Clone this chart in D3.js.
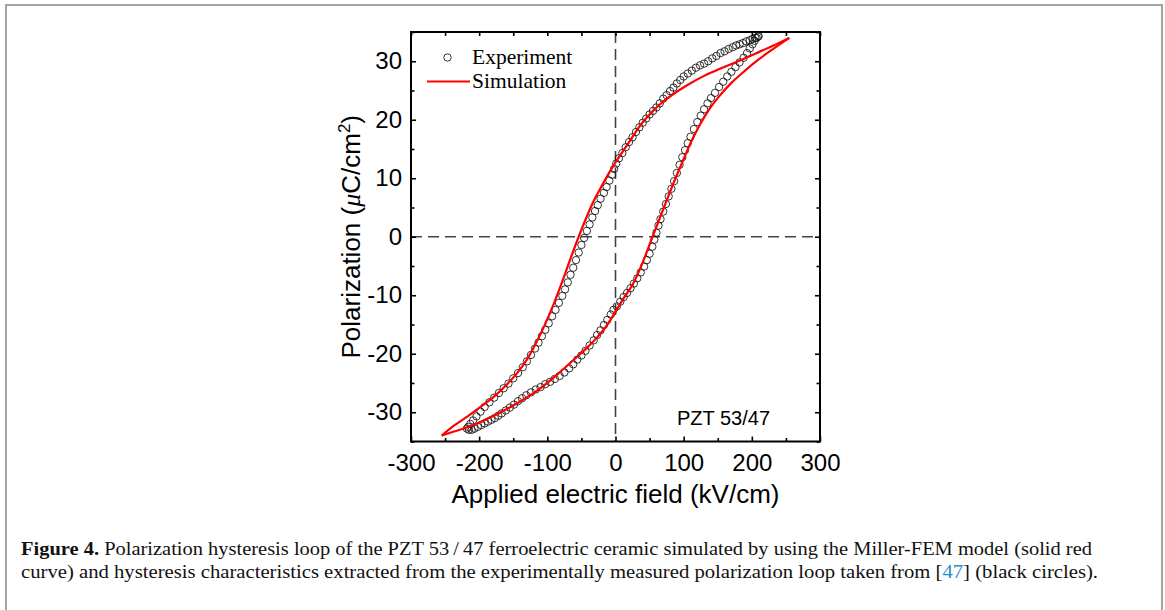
<!DOCTYPE html>
<html>
<head>
<meta charset="utf-8">
<script src="https://cdn.jsdelivr.net/npm/d3@7"></script>
<style>
  html, body { margin: 0; padding: 0; background: #fff; }
  svg { display: block; }
  .tick text { font-family: "Liberation Sans", Arial, sans-serif; font-size: 24px; fill: #000; }
  .tick line { stroke: #000; stroke-width: 1.6; }
</style>
</head>
<body>
<svg id="fig" width="1165" height="610"></svg>
<script>
// Axis ticks
const xTicks = [-300, -200, -100, 0, 100, 200, 300];
const xMinorTicks = [-250, -150, -50, 50, 150, 250];
const yTicks = [-30, -20, -10, 0, 10, 20, 30];
const yMinorTicks = [-35, -25, -15, -5, 5, 15, 25, 35];

// Measured loop, field decreasing (E in kV/cm, P in µC/cm²)
const expDescending = [
  [209,34.2],[205,34.0],[201,33.8],[197,33.6],[192,33.4],[187,33.1],[182,32.9],[177,32.7],
  [172,32.4],[166,32.1],[160,31.7],[154,31.4],[148,30.9],[142,30.5],[136,30.0],[130,29.6],
  [124,29.3],[118,28.9],[112,28.4],[106,27.9],[100,27.4],[95,26.8],[90,26.2],[85,25.5],
  [80,24.9],[75,24.2],[70,23.6],[65,22.8],[60,22.1],[55,21.5],[50,20.9],[45,20.2],
  [40,19.5],[35,18.7],[30,17.9],[25,17.0],[20,16.2],[15,15.3],[10,14.3],[5,13.4],
  [1,12.5],[-2,11.6],[-5,10.6],[-9,9.6],[-13,8.5],[-17,7.5],[-22,6.5],[-26,5.4],
  [-30,4.4],[-34,3.3],[-38,2.1],[-42,1.0],[-46,-0.2],[-50,-1.4],[-54,-2.7],[-58,-4.0],
  [-62,-5.3],[-66,-6.5],[-70,-7.8],[-74,-9.0],[-78,-10.1],[-83,-11.3],[-88,-12.5],[-93,-13.6],
  [-98,-14.8],[-103,-15.9],[-108,-17.0],[-113,-18.1],[-118,-19.1],[-124,-20.2],[-130,-21.3],
  [-136,-22.3],[-143,-23.3],[-150,-24.2],[-157,-25.1],[-164,-25.9],[-171,-26.7],[-178,-27.5],
  [-185,-28.3],[-192,-29.1],[-198,-29.9],[-204,-30.7],[-209,-31.4],[-213,-32.0],[-216,-32.5],
  [-218,-32.8]
];

// Measured loop, field increasing
const expAscending = [
  [-215,-33.0],[-211,-33.0],[-207,-32.8],[-202,-32.5],[-197,-32.2],[-192,-31.9],[-187,-31.6],
  [-182,-31.3],[-177,-31.0],[-172,-30.6],[-167,-30.2],[-161,-29.7],[-155,-29.2],[-149,-28.7],
  [-143,-28.1],[-137,-27.6],[-131,-27.1],[-124,-26.6],[-117,-26.1],[-110,-25.7],[-103,-25.2],
  [-96,-24.8],[-89,-24.3],[-82,-23.8],[-75,-23.2],[-68,-22.5],[-62,-21.8],[-56,-21.0],
  [-50,-20.3],[-44,-19.5],[-38,-18.6],[-32,-17.7],[-27,-16.8],[-22,-16.0],[-17,-15.1],
  [-12,-14.2],[-7,-13.3],[-3,-12.5],[2,-11.9],[7,-11.1],[12,-10.3],[17,-9.6],[22,-8.8],
  [27,-8.0],[32,-7.1],[37,-6.1],[42,-5.1],[46,-4.0],[50,-2.9],[54,-1.7],[57,-0.5],[60,0.7],
  [63,1.9],[66,3.0],[70,4.3],[74,5.6],[78,6.9],[82,8.2],[86,9.5],[90,10.9],[94,12.3],
  [98,13.6],[102,14.8],[106,16.0],[110,17.1],[115,18.4],[120,19.6],[125,20.7],[130,21.8],
  [135,22.8],[140,23.7],[146,24.6],[152,25.6],[158,26.5],[164,27.4],[170,28.2],[176,29.0],
  [182,29.8],[188,30.6],[193,31.4],[197,32.2],[201,32.9],[204,33.5],[207,34.0],[210,34.3]
];

// Miller-FEM simulation, upper branch (field decreasing)
const simDescending = [
  [255,34.0],[230,32.6],[205,31.3],[180,30.0],[155,28.8],[130,27.5],[105,25.9],[85,24.4],
  [65,22.6],[50,20.9],[36,19.0],[24,16.9],[12,14.8],[0,12.7],[-12,10.4],[-22,8.3],
  [-32,6.1],[-43,3.2],[-54,0.0],[-65,-3.4],[-76,-7.0],[-90,-11.3],[-105,-15.4],[-118,-18.5],
  [-130,-21.0],[-145,-23.4],[-159,-25.2],[-178,-27.3],[-198,-29.1],[-218,-30.8],[-237,-32.3],
  [-255,-34.0]
];

// Miller-FEM simulation, lower branch (field increasing)
const simAscending = [
  [-255,-34.0],[-237,-33.3],[-218,-32.6],[-195,-31.5],[-170,-30.1],[-145,-28.5],[-115,-26.3],
  [-86,-23.6],[-60,-20.9],[-42,-19.0],[-27,-17.2],[-13,-15.2],[0,-12.8],[12,-10.5],[26,-8.0],
  [36,-5.5],[45,-2.9],[53,-0.4],[62,2.3],[75,6.2],[88,10.0],[100,13.3],[112,16.5],[124,19.2],
  [137,21.7],[152,24.0],[170,26.3],[190,28.4],[210,30.3],[230,32.0],[255,34.0]
];

const svg = d3.select("#fig");

// Outer figure frame
svg.append("rect")
  .attr("x", 6).attr("y", 5).attr("width", 1156).attr("height", 640)
  .attr("fill", "none").attr("stroke", "#9a9a9a").attr("stroke-width", 1.8);

const x = d3.scaleLinear().domain([-300, 300]).range([411, 820]);
const y = d3.scaleLinear().domain([-35, 35]).range([441.5, 32]);
const fmt = d => String(d);

// Zero reference lines
svg.append("line")
  .attr("x1", x(-300)).attr("x2", x(300)).attr("y1", y(0)).attr("y2", y(0))
  .attr("stroke", "#444").attr("stroke-width", 1.6).attr("stroke-dasharray", "11,6");
svg.append("line")
  .attr("x1", x(0)).attr("x2", x(0)).attr("y1", y(35)).attr("y2", y(-35))
  .attr("stroke", "#444").attr("stroke-width", 1.6).attr("stroke-dasharray", "11,6");

// Measured points
const pts = expDescending.concat(expAscending);
svg.append("g").selectAll("circle").data(pts).join("circle")
  .attr("cx", d => x(d[0])).attr("cy", d => y(d[1])).attr("r", 3.7)
  .attr("fill", "none").attr("stroke", "#111").attr("stroke-width", 0.85);

// Simulated loop
const line = d3.line().x(d => x(d[0])).y(d => y(d[1])).curve(d3.curveMonotoneX);
[simDescending, simAscending].forEach(branch => {
  const sorted = branch.slice().sort((a, b) => a[0] - b[0]);
  svg.append("path").attr("d", line(sorted))
    .attr("fill", "none").attr("stroke", "#ff0000").attr("stroke-width", 2.2)
    .attr("stroke-linejoin", "round");
});

// Axes with inward ticks
const noDomain = g => g.select(".domain").remove();
svg.append("g").attr("transform", `translate(0,${y(-35)})`)
  .call(d3.axisBottom(x).tickValues(xTicks).tickSizeInner(-5).tickSizeOuter(0).tickPadding(12)
    .tickFormat(fmt))
  .call(noDomain);
svg.append("g").attr("transform", `translate(0,${y(-35)})`)
  .call(d3.axisBottom(x).tickValues(xMinorTicks).tickSize(-3.5).tickFormat(""))
  .call(noDomain);
svg.append("g").attr("transform", `translate(0,${y(35)})`)
  .call(d3.axisTop(x).tickValues(xTicks.concat(xMinorTicks)).tickSize(-4).tickFormat(""))
  .call(noDomain);
svg.append("g").attr("transform", `translate(${x(-300)},0)`)
  .call(d3.axisLeft(y).tickValues(yTicks).tickSizeInner(-5).tickSizeOuter(0).tickPadding(9)
    .tickFormat(fmt))
  .call(noDomain);
svg.append("g").attr("transform", `translate(${x(-300)},0)`)
  .call(d3.axisLeft(y).tickValues(yMinorTicks).tickSize(-3.5).tickFormat(""))
  .call(noDomain);
svg.append("g").attr("transform", `translate(${x(300)},0)`)
  .call(d3.axisRight(y).tickValues(yTicks).tickSize(-5).tickFormat(""))
  .call(noDomain);
svg.append("g").attr("transform", `translate(${x(300)},0)`)
  .call(d3.axisRight(y).tickValues(yMinorTicks).tickSize(-3.5).tickFormat(""))
  .call(noDomain);

// Plot frame
svg.append("rect")
  .attr("x", x(-300)).attr("y", y(35))
  .attr("width", x(300) - x(-300)).attr("height", y(-35) - y(35))
  .attr("fill", "none").attr("stroke", "#000").attr("stroke-width", 2);

// Axis titles
svg.append("text")
  .attr("x", (x(-300) + x(300)) / 2).attr("y", 503)
  .attr("text-anchor", "middle")
  .style("font-family", "'Liberation Sans', Arial, sans-serif").style("font-size", "26px")
  .text("Applied electric field (kV/cm)");

const yTitle = svg.append("text")
  .attr("transform", `translate(360,${y(0)}) rotate(-90)`)
  .attr("text-anchor", "middle")
  .style("font-family", "'Liberation Sans', Arial, sans-serif").style("font-size", "26px");
yTitle.append("tspan").text("Polarization (");
yTitle.append("tspan").style("font-family", "'Liberation Serif', serif").style("font-style", "italic").text("\u03bc");
yTitle.append("tspan").text("C/cm");
yTitle.append("tspan").attr("dy", -10).style("font-size", "17px").text("2");
yTitle.append("tspan").attr("dy", 10).text(")");

// Sample label
svg.append("text")
  .attr("x", 677).attr("y", 425)
  .style("font-family", "'Liberation Sans', Arial, sans-serif").style("font-size", "20px")
  .text("PZT 53/47");

// Legend
const legend = svg.append("g")
  .style("font-family", "'Liberation Serif', 'Times New Roman', serif").style("font-size", "21.5px");
legend.append("circle").attr("cx", 447.5).attr("cy", 57.5).attr("r", 3.7)
  .attr("fill", "none").attr("stroke", "#111").attr("stroke-width", 0.85);
legend.append("text").attr("x", 472).attr("y", 63.5).text("Experiment");
legend.append("line").attr("x1", 427).attr("x2", 470).attr("y1", 81.5).attr("y2", 81.5)
  .attr("stroke", "#ff0000").attr("stroke-width", 2.2);
legend.append("text").attr("x", 472).attr("y", 87.5).text("Simulation");

// Caption
const cap = svg.append("g")
  .style("font-family", "'Liberation Serif', 'Times New Roman', serif").style("font-size", "19.5px")
  .attr("fill", "#111");
const c1 = cap.append("text").attr("x", 21).attr("y", 555)
  .attr("textLength", 1071).attr("lengthAdjust", "spacingAndGlyphs");
c1.append("tspan").style("font-weight", "bold").text("Figure 4.");
c1.append("tspan").text(" Polarization hysteresis loop of the PZT 53\u2009/\u200947 ferroelectric ceramic simulated by using the Miller-FEM model (solid red");
const c2 = cap.append("text").attr("x", 21).attr("y", 578)
  .attr("textLength", 1077).attr("lengthAdjust", "spacingAndGlyphs");
c2.append("tspan").text("curve) and hysteresis characteristics extracted from the experimentally measured polarization loop taken from [");
c2.append("tspan").attr("fill", "#2e8bc9").text("47");
c2.append("tspan").text("] (black circles).");
</script>
</body>
</html>
